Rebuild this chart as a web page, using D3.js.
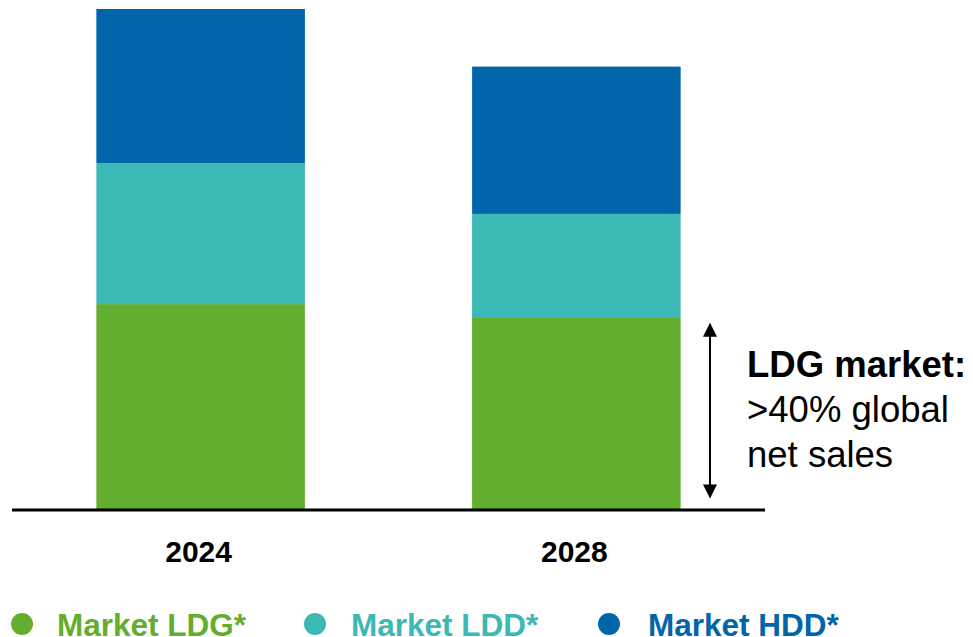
<!DOCTYPE html>
<html>
<head>
<meta charset="utf-8">
<script src="https://cdn.jsdelivr.net/npm/d3@7"></script>
<style>
  body{margin:0;background:#fff;}
  svg{display:block;font-family:"Liberation Sans",Arial,sans-serif;}
</style>
</head>
<body>
<div class="chart"></div>
<script>
// data (arbitrary units, 2024 total = 100)
const years = ["2024","2028"];
const seriesNames = ["Market LDG*","Market LDD*","Market HDD*"];
const ldg = [41.1, 38.5];
const ldd = [28.1, 20.6];
const hdd = [30.8, 29.4];
const colors = ["#63ad2f","#3cb8b5","#0066a9"];
const noteLines = ["LDG market:", ">40% global", "net sales"];

const width = 973, height = 637;
const svg = d3.select(".chart").append("svg").attr("width",width).attr("height",height);

const rows = years.map((y,i)=>({year:y, ldg:ldg[i], ldd:ldd[i], hdd:hdd[i]}));
const keys = ["ldg","ldd","hdd"];
const stacked = d3.stack().keys(keys)(rows);

const x = d3.scaleBand().domain(years).range([12,765]).paddingInner(0.445).paddingOuter(0.2245);
const y = d3.scaleLinear().domain([0,100]).range([510,9]);
const color = d3.scaleOrdinal().domain(keys).range(colors);

svg.append("g").selectAll("g")
    .data(stacked)
    .join("g")
    .attr("fill",d=>color(d.key))
    .selectAll("rect")
    .data(d=>d)
    .join("rect")
    .attr("x",d=>x(d.data.year))
    .attr("y",d=>y(d[1]))
    .attr("width",x.bandwidth())
    .attr("height",d=>y(d[0])-y(d[1]));

// baseline
svg.append("line")
    .attr("x1",12).attr("x2",765)
    .attr("y1",y(0)).attr("y2",y(0))
    .attr("stroke","#000").attr("stroke-width",3);

// year labels
svg.append("g").selectAll("text")
    .data(years)
    .join("text")
    .attr("x",d=>x(d)+x.bandwidth()/2 - 2)
    .attr("y",562)
    .attr("text-anchor","middle")
    .style("font-size","30px")
    .style("font-weight","bold")
    .text(d=>d);

// double arrow for LDG share of 2028
const defs = svg.append("defs");
defs.append("marker").attr("id","head")
    .attr("viewBox","0 0 10 10").attr("refX",9).attr("refY",5)
    .attr("markerWidth",16).attr("markerHeight",14).attr("markerUnits","userSpaceOnUse")
    .attr("orient","auto-start-reverse")
    .append("path").attr("d","M0,0L10,5L0,10Z").attr("fill","#000");

const ax = 710;
svg.append("line")
    .attr("x1",ax).attr("x2",ax)
    .attr("y1",y(ldg[1])+7).attr("y2",y(0)-13)
    .attr("stroke","#000").attr("stroke-width",2)
    .attr("marker-start","url(#head)")
    .attr("marker-end","url(#head)");

const note = svg.append("text").attr("x",747).attr("y",377).style("font-size","36.5px");
note.selectAll("tspan")
    .data(noteLines)
    .join("tspan")
    .attr("x",747)
    .attr("dy",(d,i)=>i===0?0:45)
    .style("font-weight",(d,i)=>i===0?"bold":"normal")
    .text(d=>d);

// legend
const legendX = [22, 315, 609];
const legendTextX = [57, 351, 648];
const legend = svg.append("g").selectAll("g")
    .data(seriesNames)
    .join("g");
legend.append("circle")
    .attr("cx",(d,i)=>legendX[i]).attr("cy",624)
    .attr("r",11).attr("fill",(d,i)=>colors[i]);
legend.append("text")
    .attr("x",(d,i)=>legendTextX[i]).attr("y",636)
    .attr("fill",(d,i)=>colors[i])
    .style("font-size","31.5px")
    .style("font-weight","bold")
    .text(d=>d);
</script>
</body>
</html>
